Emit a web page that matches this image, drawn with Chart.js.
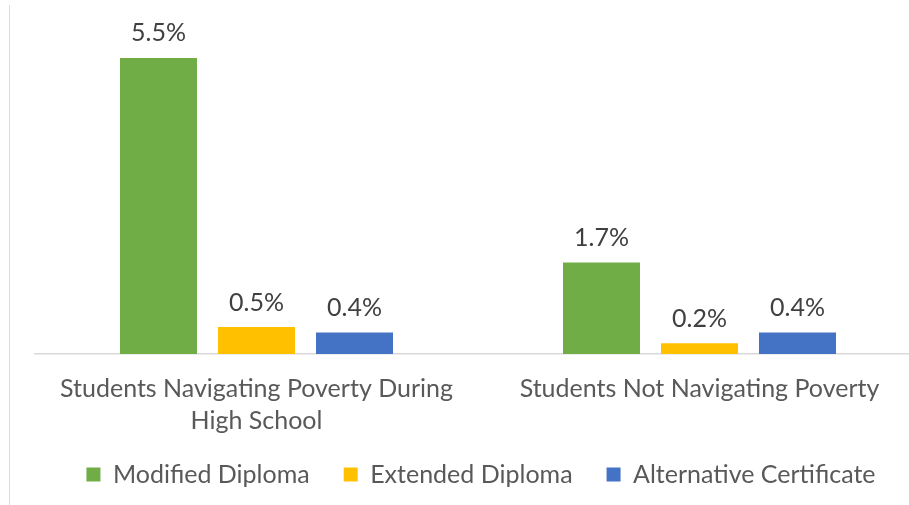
<!DOCTYPE html>
<html>
<head>
<meta charset="utf-8">
<script src="https://cdn.jsdelivr.net/npm/chart.js@4/dist/chart.umd.min.js"></script>
<style>
  html, body { margin: 0; padding: 0; background: #ffffff; overflow: hidden; }
  #wrap { position: relative; width: 930px; height: 505px; }
  #edge { position: absolute; left: 9px; top: 5px; width: 1px; height: 500px; background: #dcdcdc; }
  canvas { position: absolute; left: 0; top: 0; }
</style>
</head>
<body>
<div id="wrap">
  <div id="edge"></div>
  <canvas id="c" width="930" height="505"></canvas>
</div>
<script>
const categories = [
  ['Students Navigating Poverty During', 'High School'],
  'Students Not Navigating Poverty'
];
const seriesNames = ['Modified Diploma', 'Extended Diploma', 'Alternative Certificate'];
const modifiedDiploma = [5.5, 1.7];
const extendedDiploma = [0.5, 0.2];
const alternativeCertificate = [0.4, 0.4];
const seriesColors = ['#70AD47', '#FFC000', '#4472C4'];

const FONT = 'Lato, Calibri, Carlito, "Open Sans", sans-serif';
const FS = 25;

const valueLabels = {
  id: 'valueLabels',
  afterDatasetsDraw(chart) {
    const ctx = chart.ctx;
    ctx.save();
    ctx.font = FS + 'px ' + FONT;
    ctx.fillStyle = '#404040';
    ctx.textAlign = 'center';
    ctx.textBaseline = 'middle';
    chart.data.datasets.forEach((ds, i) => {
      const meta = chart.getDatasetMeta(i);
      meta.data.forEach((bar, j) => {
        ctx.fillText(ds.data[j].toFixed(1) + '%', bar.x, bar.y - 24.5);
      });
    });
    ctx.restore();
  }
};

const legendShift = {
  id: 'legendShift',
  afterLayout(chart) {
    if (chart.legend) {
      chart.legend.top -= 12;
      chart.legend.bottom -= 12;
      chart.legend.left += 3;
      chart.legend.right += 3;
    }
  }
};

new Chart(document.getElementById('c'), {
  type: 'bar',
  data: {
    labels: categories,
    datasets: [
      { label: seriesNames[0], data: modifiedDiploma, backgroundColor: seriesColors[0] },
      { label: seriesNames[1], data: extendedDiploma, backgroundColor: seriesColors[1] },
      { label: seriesNames[2], data: alternativeCertificate, backgroundColor: seriesColors[2] }
    ]
  },
  options: {
    responsive: false,
    animation: false,
    devicePixelRatio: 1,
    categoryPercentage: 0.6637,
    barPercentage: 0.7857,
    layout: { padding: { left: 35, right: 9, top: 31, bottom: 0 } },
    plugins: {
      tooltip: { enabled: false },
      legend: {
        position: 'bottom',
        maxHeight: 65,
        labels: {
          boxWidth: 14,
          boxHeight: 14,
          padding: 34,
          color: '#595959',
          font: { family: FONT, size: FS }
        }
      }
    },
    scales: {
      x: {
        grid: { display: false, drawTicks: false },
        border: { display: true, color: '#D9D9D9', width: 1.5 },
        ticks: {
          color: '#595959',
          padding: 19,
          maxRotation: 0,
          autoSkip: false,
          font: { family: FONT, size: FS, lineHeight: 1.28 }
        },
        afterFit(scale) { scale.height = 86; }
      },
      y: {
        display: false,
        min: 0,
        max: 6
      }
    }
  },
  plugins: [valueLabels, legendShift]
});
</script>
</body>
</html>
